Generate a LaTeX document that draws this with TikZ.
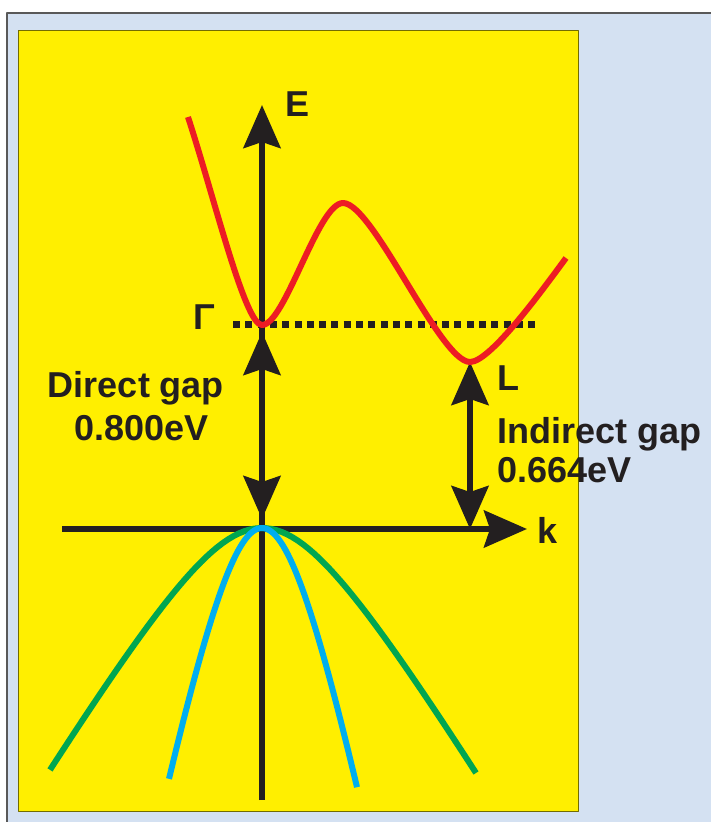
\documentclass[tikz,border=0pt]{standalone}
\usepackage{fontspec}
\setmainfont{Liberation Sans}
\usetikzlibrary{arrows.meta}
\definecolor{bandred}{RGB}{237,28,36}
\definecolor{bandgreen}{RGB}{0,166,81}
\definecolor{bandblue}{RGB}{0,174,239}
\definecolor{ink}{RGB}{35,31,32}
\definecolor{panel}{RGB}{255,239,0}
\definecolor{paper}{RGB}{212,225,242}
\begin{document}
\begin{tikzpicture}[x=1pt,y=-1pt,>={Stealth[length=43pt,width=37pt,inset=6pt]},line join=round]
	\tikzset{label style/.style={font=\fontsize{36}{40}\selectfont\bfseries,text=ink,inner sep=0pt},
		axis/.style={draw=ink,line width=6pt},
		band/.style={line width=6pt}}
	%% khung nen
	\useasboundingbox (0,0) rectangle (711,822);
	\fill[paper] (7,13) rectangle (711,822);
	\draw[line width=2pt,black!65] (7,822)--(7,13)--(711,13);
	\filldraw[fill=panel,draw=panel!45!black,line width=1pt] (18,30) rectangle (578,811);
	%% cac diem
	\coordinate (O) at (262,529);
	\coordinate (G) at (262,325);
	\coordinate (Rmax) at (343,203);
	\coordinate (Lmin) at (470,362);
	\coordinate (rstart) at (188,117);
	\coordinate (rend) at (566,258);
	\coordinate (Ebot) at (262,800);
	\coordinate (Etop) at (262,105);
	\coordinate (kleft) at (62,529);
	\coordinate (ktip) at (527,529);
	\coordinate (dotL) at (233,324);
	\coordinate (dotR) at (537,324);
	%% truc
	\draw[axis,->] (Ebot)--(Etop);
	\draw[axis,->] (kleft)--(ktip);
	\draw[ink,line width=7pt,dash pattern=on 7pt off 5.3pt] (dotL)--(dotR);
	%% khe nang luong
	\draw[axis,<->] ([yshift=-7pt]G)--([yshift=10pt]O);
	\draw[axis,<->] (Lmin)--(Lmin|-O);
	%% cac vung
	\draw[band,bandgreen] plot[domain=-212:214,samples=80] ({262+\x},{528+132*(sqrt(1+(\x/80)^2)-1)});
	\draw[band,bandblue] plot[domain=-93:95,samples=80] ({262+\x},{528+297*(sqrt(1+(\x/60)^2)-1)});
	\draw[band,bandred] (rstart) .. controls (215,200) and (245,325) .. (G)
		.. controls (285,325) and (318,203) .. (Rmax)
		.. controls (373,203) and (440,362) .. (Lmin)
		.. controls (490,362) and (541,292) .. (rend);
	%% nhan
	\node[label style,anchor=base] (E) at (298,116) {E};
	\node[label style,anchor=base] (k) at (548,543) {k};
	\node[label style,anchor=base] (Gam) at (204,329) {Γ};
	\node[label style,anchor=base] (Lab) at (508,390) {L};
	\node[label style,anchor=base] (dgap) at (136,397) {Direct gap};
	\node[label style,anchor=base] (dval) at (141.5,440) {0.800eV};
	\node[label style,anchor=base west] (igap) at (497,443) {Indirect gap};
	\node[label style,anchor=base west] (ival) at (497,482) {0.664eV};
\end{tikzpicture}
\end{document}
